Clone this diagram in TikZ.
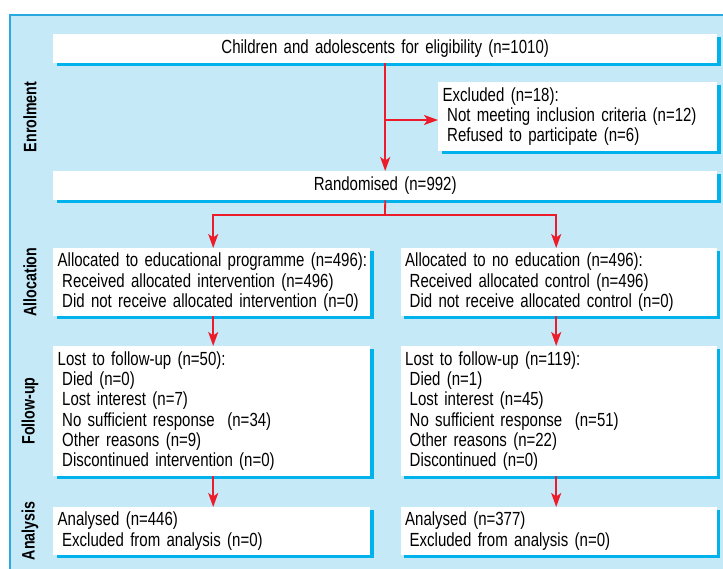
\documentclass[tikz,border=0pt]{standalone}
\usepackage{fontspec}
\setmainfont[FakeStretch=0.79]{Liberation Sans}
\usetikzlibrary{arrows.meta,shadows,calc}
\definecolor{panelc}{HTML}{C6E9F8}
\definecolor{borderc}{HTML}{2AA8E0}
\definecolor{shadowc}{HTML}{00B2EC}
\definecolor{arrowc}{HTML}{EC1C2A}
\begin{document}
\begin{tikzpicture}[x=1pt,y=-1pt,
  box/.style={fill=white, general shadow={fill=shadowc, shadow xshift=3.5pt, shadow yshift=-3pt},
    inner xsep=4.5pt, inner ysep=0pt, anchor=north west, align=left,
    font=\fontsize{19}{20.3}\selectfont},
  cbox/.style={box, align=center},
  side/.style={rotate=90, font=\bfseries\fontsize{18}{20}\selectfont},
  link/.style={draw=arrowc, line width=1.8pt},
  arr/.style={link, -{Stealth[length=14pt, width=10pt, inset=3.5pt]}}]
\useasboundingbox (0,0) rectangle (723,569);
% panel
\fill[panelc] (9,14) rectangle (723,569);
\draw[borderc, line width=2pt] (10,569) -- (10,15) -- (723,15);
% side labels
\node[side] (s1) at (30,117) {Enrolment};
\node[side] (s2) at (30,282) {Allocation};
\node[side] (s3) at (30,411) {Follow-up};
\node[side] (s4) at (30,531) {Analysis};
% boxes
\node[cbox, text width=655pt, minimum height=29pt] (top) at (53,34) {Children and adolescents for eligibility (n=1010)};
\node[box, text width=270pt, minimum height=69pt] (excl) at (438,82) {Excluded (n=18):\\
\hspace*{4.5pt}Not meeting inclusion criteria (n=12)\\
\hspace*{4.5pt}Refused to participate (n=6)};
\node[cbox, text width=655pt, minimum height=29pt] (rand) at (53,171) {Randomised (n=992)};
\node[box, text width=308pt, minimum height=68pt] (al) at (53,248) {\mbox{Allocated to educational programme (n=496):}\\
\hspace*{4.5pt}Received allocated intervention (n=496)\\
\hspace*{4.5pt}Did not receive allocated intervention (n=0)};
\node[box, text width=307pt, minimum height=68pt] (ar) at (400.5,248) {Allocated to no education (n=496):\\
\hspace*{4.5pt}Received allocated control (n=496)\\
\hspace*{4.5pt}Did not receive allocated control (n=0)};
\node[box, text width=308pt, minimum height=130pt] (fl) at (53,346) {Lost to follow-up (n=50):\\
\hspace*{4.5pt}Died (n=0)\\
\hspace*{4.5pt}Lost interest (n=7)\\
\hspace*{4.5pt}No sufficient response\ \ (n=34)\\
\hspace*{4.5pt}Other reasons (n=9)\\
\hspace*{4.5pt}Discontinued intervention (n=0)};
\node[box, text width=307pt, minimum height=130pt] (fr) at (400.5,346) {Lost to follow-up (n=119):\\
\hspace*{4.5pt}Died (n=1)\\
\hspace*{4.5pt}Lost interest (n=45)\\
\hspace*{4.5pt}No sufficient response\ \ (n=51)\\
\hspace*{4.5pt}Other reasons (n=22)\\
\hspace*{4.5pt}Discontinued (n=0)};
\node[box, text width=308pt, minimum height=48pt] (nl) at (53,507) {Analysed (n=446)\\
\hspace*{4.5pt}Excluded from analysis (n=0)};
\node[box, text width=307pt, minimum height=48pt] (nr) at (400.5,507) {Analysed (n=377)\\
\hspace*{4.5pt}Excluded from analysis (n=0)};
% connectors
\draw[arr] (top.south) -- (rand.north);
\coordinate (b1) at (385,120);
\draw[arr] (b1) -- (b1 -| excl.west);
\coordinate (sp) at (385,215);
\draw[link] (rand.south) -- (sp);
\draw[arr] (sp) -| ([xshift=1.5pt]al.north);
\draw[arr] (sp) -| ([xshift=-2.5pt]ar.north);
\draw[arr] ([xshift=1.5pt]al.south) -- ([xshift=1.5pt]fl.north);
\draw[arr] ([xshift=-2.5pt]ar.south) -- ([xshift=-2.5pt]fr.north);
\draw[arr] ([xshift=1.5pt]fl.south) -- ([xshift=1.5pt]nl.north);
\draw[arr] ([xshift=-2.5pt]fr.south) -- ([xshift=-2.5pt]nr.north);
\end{tikzpicture}
\end{document}
